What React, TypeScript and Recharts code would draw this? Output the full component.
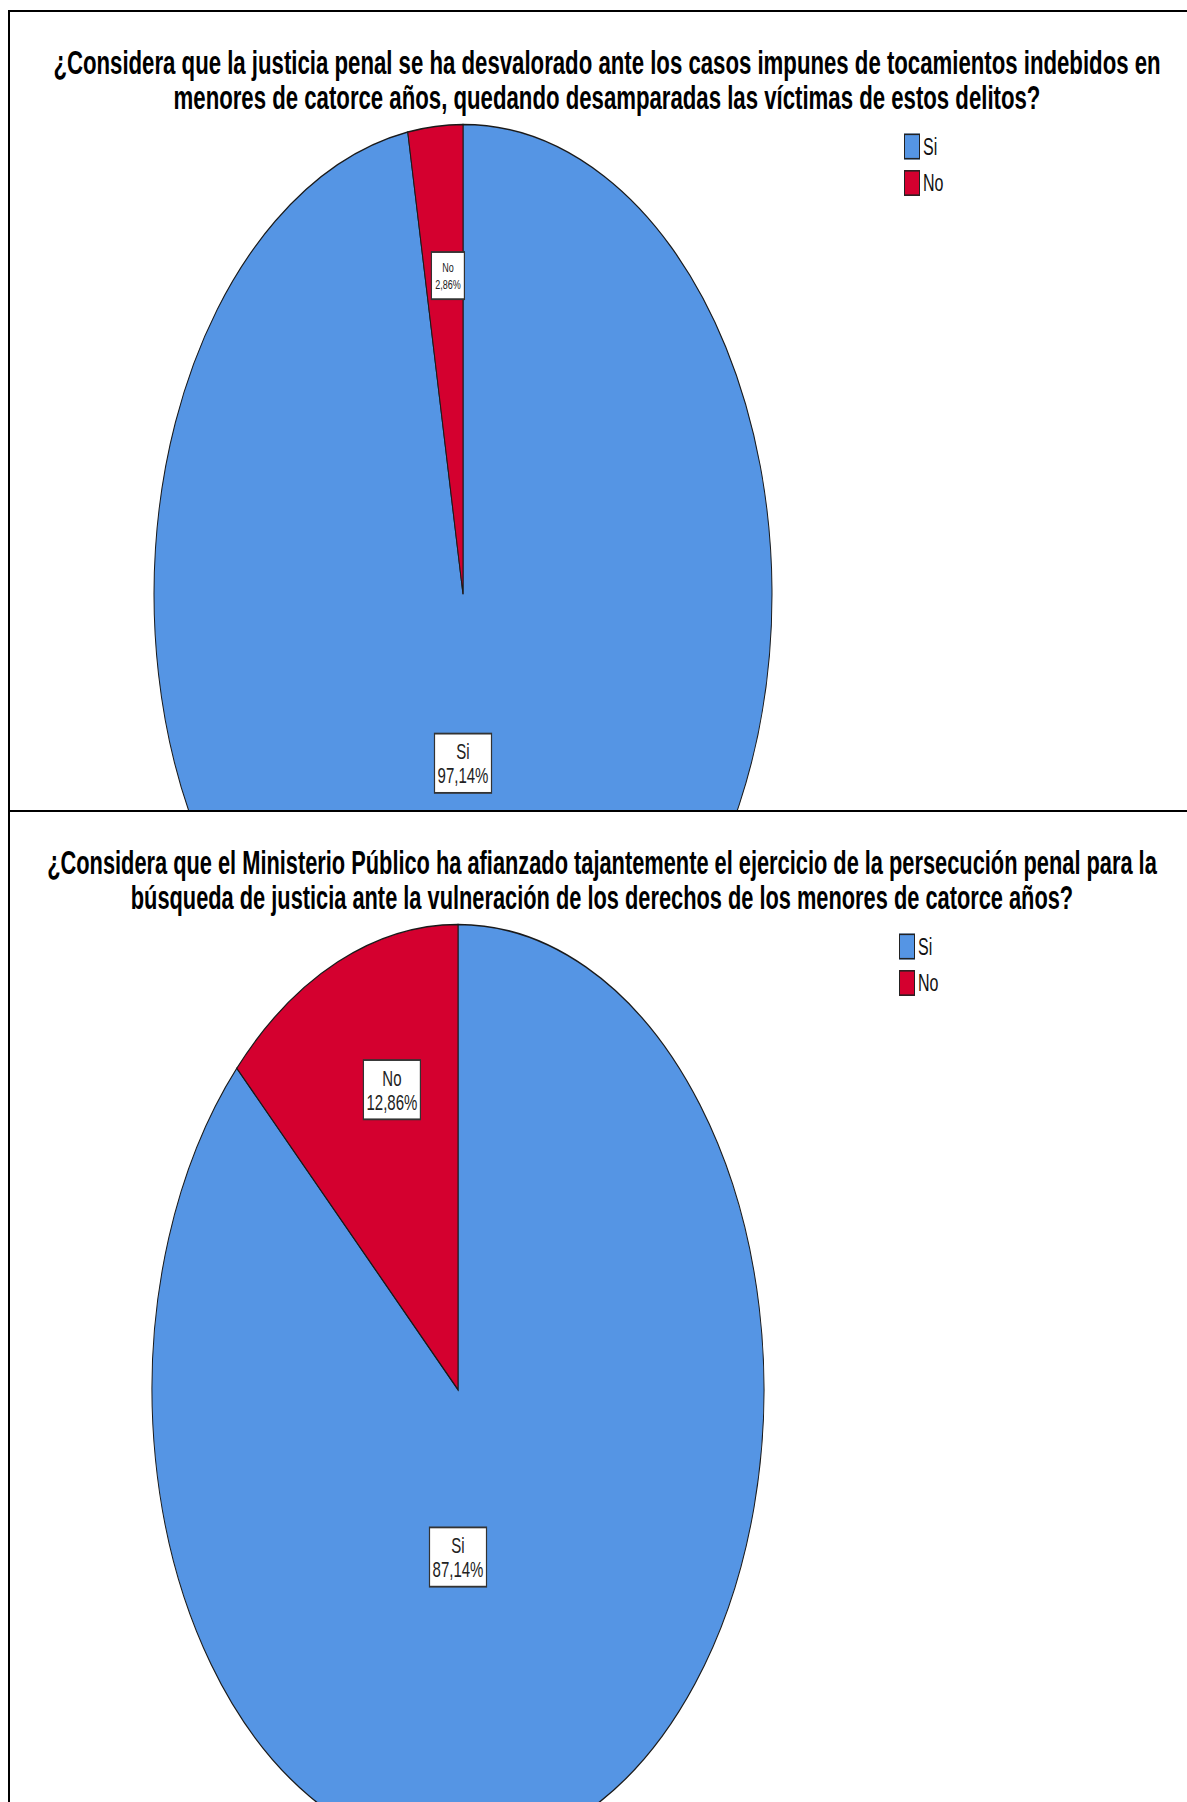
import { PieChart, Pie, Cell, Legend } from "recharts";

// answers for both questions
const categories = ["Si", "No"];
const q1Values = [97.14, 2.86];
const q2Values = [87.14, 12.86];

const q1Title = [
  "¿Considera que la justicia penal se ha desvalorado ante los casos impunes de tocamientos indebidos en",
  "menores de catorce años, quedando desamparadas las víctimas de estos delitos?",
];
const q2Title = [
  "¿Considera que el Ministerio Público ha afianzado tajantemente el ejercicio de la persecución penal para la",
  "búsqueda de justicia ante la vulneración de los derechos de los menores de catorce años?",
];

const COLORS = ["#5595E4", "#D4002F"];
const STRETCH = 1.52; // original chart was stretched vertically
const FONT = "'Liberation Sans', Arial, sans-serif";
const RAD = Math.PI / 180;

const fmt = (v: number) => v.toFixed(2).replace(".", ",") + "%";

function renderLabel(props: any) {
  const { cx, cy, midAngle, outerRadius, percent, name, value } = props;
  const big = percent > 0.5;
  const m = ((midAngle % 360) + 360) % 360;
  // big slice label sits under the centre, small ones near the rim
  const ang = big ? -90 : 90 + (m - 90) * 0.8;
  const dist = outerRadius * (big ? 0.36 : 0.68);
  const x = cx + dist * Math.cos(ang * RAD);
  const y = cy - dist * Math.sin(ang * RAD);
  const small = percent < 0.05;
  const fs = small ? 9 : 15;
  const w = small ? 33 : 57;
  const h = small ? 31 : 39;
  const lh = small ? 11 : 16;
  return (
    <g>
      <rect x={x - w / 2} y={y - h / 2} width={w} height={h} fill="#fff" stroke="#333" strokeWidth={1.2} />
      <text x={x} y={y - lh / 2 + fs * 0.35} textAnchor="middle" fontSize={fs} fontFamily={FONT} fill="#222">
        <tspan x={x}>{name}</tspan>
        <tspan x={x} dy={lh}>{fmt(value)}</tspan>
      </text>
    </g>
  );
}

function renderLegend(props: any) {
  const payload = [...(props.payload || [])].sort(
    (a: any, b: any) => categories.indexOf(a.value) - categories.indexOf(b.value)
  );
  return (
    <div style={{ fontFamily: FONT }}>
      {payload.map((p: any, i: number) => (
        <div key={i} style={{ display: "flex", alignItems: "center", height: 23.7 }}>
          <span
            style={{
              display: "inline-block",
              width: 14,
              height: 15,
              background: p.color,
              border: "1.5px solid #222",
              marginRight: 3,
            }}
          />
          <span style={{ fontSize: 16, color: "#111", lineHeight: "17px" }}>{p.value}</span>
        </div>
      ))}
    </div>
  );
}

interface PanelProps {
  top: number;
  height: number;
  title: string[];
  titleSize: number;
  titleCenter: number;
  values: number[];
  cx: number;
  cy: number;
  r: number;
}

function Panel({ top, height, title, titleSize, titleCenter, values, cx, cy, r }: PanelProps) {
  const data = categories.map((name, i) => ({ name, value: values[i] }));
  return (
    <div
      style={{
        position: "absolute",
        left: 8,
        top,
        width: 1200,
        height,
        borderTop: "2px solid #000",
        borderLeft: "2px solid #000",
        overflow: "hidden",
        boxSizing: "border-box",
        background: "#fff",
      }}
    >
      <div
        style={{
          position: "absolute",
          left: 0,
          top: 0,
          width: 1190,
          height: 720,
          transform: `scaleY(${STRETCH})`,
          transformOrigin: "0 0",
        }}
      >
        <div
          style={{
            position: "absolute",
            left: titleCenter - 600,
            top: 22,
            width: 1200,
            textAlign: "center",
            fontFamily: FONT,
            fontWeight: 700,
            fontSize: titleSize,
            lineHeight: "23px",
            whiteSpace: "nowrap",
            color: "#000",
          }}
        >
          {title.map((t, i) => (
            <div key={i}>{t}</div>
          ))}
        </div>
        <PieChart
          width={1190}
          height={720}
          margin={{ top: 0, right: 0, bottom: 0, left: 0 }}
          style={{ position: "absolute", left: 0, top: 0 }}
        >
          <Pie
            data={data}
            dataKey="value"
            nameKey="name"
            cx={cx}
            cy={cy}
            outerRadius={r}
            startAngle={90}
            endAngle={-270}
            stroke="#1a1a1a"
            strokeWidth={1}
            label={renderLabel}
            labelLine={false}
            isAnimationActive={false}
          >
            {data.map((d, i) => (
              <Cell key={d.name} fill={COLORS[i % COLORS.length]} />
            ))}
          </Pie>
          <Legend
            content={renderLegend}
            layout="vertical"
            wrapperStyle={{ position: "absolute", left: cx + 441, top: 77, width: 80 }}
          />
        </PieChart>
      </div>
    </div>
  );
}

export default function App() {
  return (
    <div style={{ position: "relative", width: 1187, height: 1802, overflow: "hidden", background: "#fff" }}>
      <style>{`body{margin:0}`}</style>
      <Panel
        top={10}
        height={802}
        title={q1Title}
        titleSize={22.2}
        titleCenter={597}
        values={q1Values}
        cx={453}
        cy={383}
        r={309}
      />
      <Panel
        top={810}
        height={992}
        title={q2Title}
        titleSize={21.8}
        titleCenter={592}
        values={q2Values}
        cx={448}
        cy={380}
        r={306}
      />
    </div>
  );
}
